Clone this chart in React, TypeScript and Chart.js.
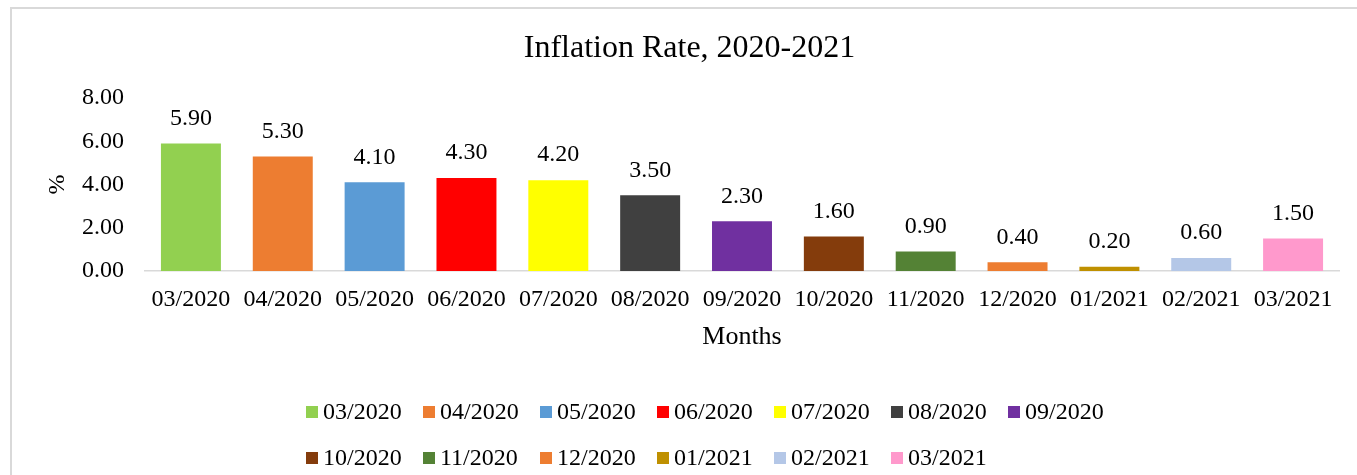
import React, { useEffect, useRef } from "react";
import { Chart, registerables } from "chart.js";

Chart.register(...registerables);

const months = [
  "03/2020", "04/2020", "05/2020", "06/2020", "07/2020", "08/2020", "09/2020",
  "10/2020", "11/2020", "12/2020", "01/2021", "02/2021", "03/2021",
];
const inflation = [5.9, 5.3, 4.1, 4.3, 4.2, 3.5, 2.3, 1.6, 0.9, 0.4, 0.2, 0.6, 1.5];
const barColors = [
  "#92d050", "#ed7d31", "#5b9bd5", "#ff0000", "#ffff00", "#404040", "#7030a0",
  "#843c0c", "#548235", "#ed7d31", "#bf9000", "#b4c7e7", "#ff99cc",
];
const yTicks = [0, 2, 4, 6, 8];

const FONT = "'Liberation Serif', 'Times New Roman', serif";

const framePlugin = {
  id: "frame",
  beforeDraw(chart: any) {
    const ctx = chart.ctx;
    ctx.save();
    ctx.fillStyle = "#d9d9d9";
    ctx.fillRect(10, 7, chart.width - 10, 2);
    ctx.fillRect(10, 7, 2, chart.height - 7);
    ctx.restore();
  },
};

const valueLabelPlugin = {
  id: "valueLabels",
  afterDatasetsDraw(chart: any) {
    const ctx = chart.ctx;
    const meta = chart.getDatasetMeta(0);
    const data = chart.data.datasets[0].data;
    ctx.save();
    ctx.font = `24px ${FONT}`;
    ctx.fillStyle = "#000";
    ctx.textAlign = "center";
    ctx.textBaseline = "middle";
    meta.data.forEach((bar: any, i: number) => {
      ctx.fillText(Number(data[i]).toFixed(2), bar.x, bar.y - 25);
    });
    ctx.restore();
  },
};

const gridLegendPlugin = {
  id: "gridLegend",
  afterDraw(chart: any) {
    const ctx = chart.ctx;
    const perRow = 7;
    const step = 117;
    const startX = 306;
    const rowY = [412, 458];
    ctx.save();
    ctx.font = `24px ${FONT}`;
    ctx.textBaseline = "middle";
    ctx.textAlign = "left";
    months.forEach((m, i) => {
      const row = Math.floor(i / perRow);
      const col = i % perRow;
      const x = startX + col * step;
      const y = rowY[row];
      ctx.fillStyle = barColors[i];
      ctx.fillRect(x, y - 6, 12, 12);
      ctx.fillStyle = "#000";
      ctx.fillText(m, x + 17, y + 1);
    });
    ctx.restore();
  },
};

export default function App() {
  const ref = useRef<HTMLCanvasElement | null>(null);

  useEffect(() => {
    if (!ref.current) return;
    const chart = new Chart(ref.current, {
      type: "bar",
      data: {
        labels: months,
        datasets: [
          {
            label: "Inflation",
            data: inflation,
            backgroundColor: barColors,
            borderWidth: 0,
            barPercentage: 0.653,
            categoryPercentage: 1,
          },
        ],
      },
      options: {
        animation: false,
        responsive: false,
        layout: { padding: { top: 8, left: 40, right: 18, bottom: 122 } },
        plugins: {
          legend: { display: false },
          tooltip: { enabled: false },
          title: {
            display: true,
            text: "Inflation Rate, 2020-2021",
            color: "#000",
            font: { family: FONT, size: 32, weight: "normal" },
            padding: { top: 21, bottom: 30.6 },
          },
        },
        scales: {
          x: {
            grid: { display: false, drawTicks: false },
            border: { display: true, color: "#d9d9d9", width: 1.5 },
            afterFit(scale: any) {
              scale.height = 82;
            },
            ticks: {
              color: "#000",
              font: { family: FONT, size: 24 },
              padding: 14,
              maxRotation: 0,
              autoSkip: false,
            },
            title: {
              display: true,
              text: "Months",
              color: "#000",
              font: { family: FONT, size: 26 },
              padding: { top: 7.6, bottom: 0 },
            },
          },
          y: {
            min: 0,
            max: 8,
            grid: { display: false, drawTicks: false },
            border: { display: false },
            afterBuildTicks(scale: any) {
              scale.ticks = yTicks.map((v) => ({ value: v }));
            },
            afterFit(scale: any) {
              scale.width = 105;
            },
            ticks: {
              color: "#000",
              font: { family: FONT, size: 24 },
              padding: 21,
              callback: (v: any) => Number(v).toFixed(2),
            },
            title: {
              display: true,
              text: "%",
              color: "#000",
              font: { family: FONT, size: 24 },
              padding: { top: 3.6, bottom: 0 },
            },
          },
        },
      },
      plugins: [framePlugin, valueLabelPlugin, gridLegendPlugin],
    });
    return () => chart.destroy();
  }, []);

  return (
    <div style={{ position: "fixed", left: 0, top: 0, width: 1357, height: 475, background: "#fff" }}>
      <canvas ref={ref} width={1357} height={475} />
    </div>
  );
}
